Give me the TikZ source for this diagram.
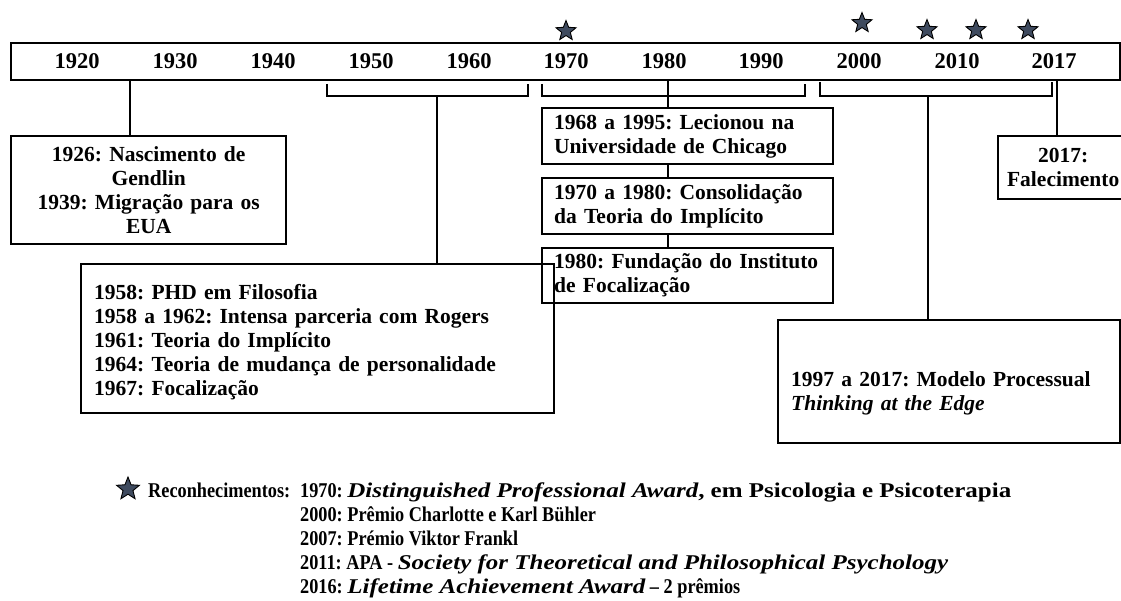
\documentclass[tikz,border=0pt]{standalone}
\usepackage{fontspec}
\setmainfont{Liberation Serif}
\newfontfamily\legfont{Liberation Serif}[FakeStretch=0.87]
\newfontfamily\legwide{Liberation Serif}[FakeStretch=1.19]
\usetikzlibrary{shapes.geometric}
\frenchspacing
\hyphenpenalty=10000

\definecolor{starblue}{HTML}{3E4A5E}
\tikzset{
  evbox/.style={draw, line width=2.4pt, font=\fontsize{21.5}{24}\selectfont\bfseries,
    inner xsep=12pt, inner ysep=0pt, anchor=north west},
  yearlbl/.style={font=\fontsize{22.5}{24}\selectfont\bfseries},
  award/.style={star, star points=5, star point ratio=2.3, draw=black, fill=starblue,
    line width=0.9pt, minimum size=21pt, inner sep=0pt},
  link/.style={line width=2.4pt},
  legline/.style={anchor=base west, inner sep=0pt,
    font=\fontsize{21}{24}\selectfont\legfont\bfseries},
}

\begin{document}
\begin{tikzpicture}[x=1pt,y=-1pt]
\useasboundingbox (0,0) rectangle (1121,601);
\clip (0,0) rectangle (1121,601);

% the time bar
\node[draw, line width=2.4pt, minimum width=1109pt, minimum height=37pt, anchor=north west, inner sep=0pt] (bar) at (10,42) {};
\foreach \yx/\yr in {77/1920,175/1930,273/1940,371/1950,469/1960,566/1970,664/1980,761/1990,859/2000,957/2010,1054/2017}
  \node[yearlbl] (y\yr) at (\yx,61) {\yr};

% prizes
\node[award] (st1970) at (566,31) {};
\node[award] (st2000) at (862,23) {};
\node[award] (st2007) at (927,30) {};
\node[award] (st2011) at (976,30) {};
\node[award] (st2016) at (1028,30) {};

% boxes
\node[evbox, align=center, text width=251pt, minimum width=275pt, minimum height=108pt] (gendlin) at (10,135)
  {1926: Nascimento de\\Gendlin\\1939: Migração para os\\EUA};
\node[evbox, align=left, inner xsep=13pt, text width=447pt, minimum width=473pt, minimum height=149pt,
  text height=22.7pt] (phd) at (80,263)
  {1958: PHD em Filosofia\\1958 a 1962: Intensa parceria com Rogers\\1961: Teoria do Implícito\\1964: Teoria de mudança de personalidade\\1967: Focalização};
\node[evbox, align=left, text width=267pt, minimum width=291pt, minimum height=56pt] (chicago) at (541,107)
  {1968 a 1995: Lecionou na\\Universidade de Chicago};
\node[evbox, align=left, text width=267pt, minimum width=291pt, minimum height=56pt] (implicito) at (541,177)
  {1970 a 1980: Consolidação\\da Teoria do Implícito};
\node[evbox, align=left, text width=267pt, minimum width=291pt, minimum height=55pt] (instituto) at (541,247)
  {1980: Fundação do Instituto\\de Focalização};
\node[evbox, align=left, inner xsep=13pt, text width=316pt, minimum width=342pt, minimum height=123pt,
  text height=38.7pt, text depth=28.7pt] (tae) at (777,319)
  {1997 a 2017: Modelo Processual\\\textit{Thinking at the Edge}};
\node[evbox, align=center, inner xsep=4pt, text width=122pt, minimum width=130pt, minimum height=63pt] (morte) at (997,135)
  {2017:\\Falecimento};

% stems and brackets
\coordinate (s1) at (130,0);
\draw[link] (bar.south -| s1) -- (gendlin.north -| s1);
\coordinate (br1l) at (327,84);
\coordinate (br1r) at (528,84);
\coordinate (s2) at (437,96);
\draw[link] (br1l) -- ++(0,12) -| (br1r);
\draw[link] (s2) -- (phd.north -| s2);
\coordinate (br2l) at (542,84);
\coordinate (br2r) at (805,84);
\coordinate (s3) at (668,0);
\draw[link] (br2l) -- ++(0,12) -| (br2r);
\draw[link] (bar.south -| s3) -- (chicago.north -| s3);
\draw[link] (chicago.south -| s3) -- (implicito.north -| s3);
\draw[link] (implicito.south -| s3) -- (instituto.north -| s3);
\coordinate (br3l) at (820,82);
\coordinate (br3r) at (1052,82);
\coordinate (s4) at (928,96);
\draw[link] (br3l) -- ++(0,14) -| (br3r);
\draw[link] (s4) -- (tae.north -| s4);
\coordinate (s5) at (1057,0);
\draw[link] (bar.south -| s5) -- (morte.north -| s5);

% legend
\node[award, minimum size=24pt] (legstar) at (128,489) {};
\node[legline] (recon) at (148,497) {Reconhecimentos:};
\node[legline] (aw1) at (300,497) {1970: {\legwide\bfseries\textit{Distinguished Professional Award}, em Psicologia e Psicoterapia}};
\node[legline] (aw2) at (300,521) {2000: Prêmio Charlotte e Karl Bühler};
\node[legline] (aw3) at (300,545) {2007: Prémio Viktor Frankl};
\node[legline] (aw4) at (300,569) {2011: APA - {\legwide\bfseries\itshape Society for Theoretical and Philosophical Psychology}};
\node[legline] (aw5) at (300,593) {2016: {\legwide\bfseries\itshape Lifetime Achievement Award} – 2 prêmios};
\end{tikzpicture}
\end{document}
